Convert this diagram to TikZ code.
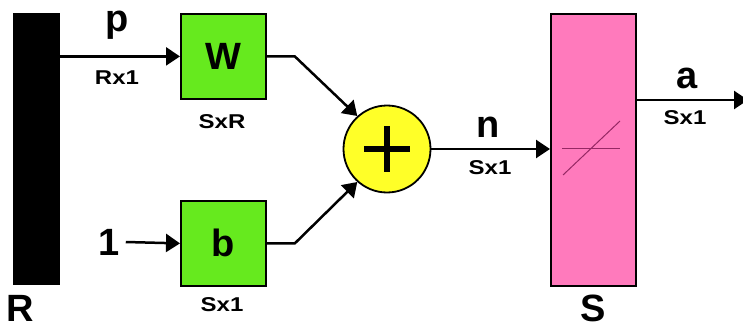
\documentclass[tikz,border=0pt]{standalone}
\usepackage{fontspec}
\setmainfont{Liberation Sans}
\usepackage{graphicx}
\usetikzlibrary{arrows.meta,calc}

\definecolor{blockgreen}{RGB}{102,234,30}
\definecolor{sumyellow}{RGB}{255,255,40}
\definecolor{tfpink}{RGB}{255,122,188}
\definecolor{tfline}{RGB}{150,40,100}

\begin{document}
\begin{tikzpicture}[x=1pt,y=-1pt,
  blk/.style={draw=black, line width=1.8pt, inner sep=0pt, anchor=north west},
  wire/.style={line width=2.5pt, -{Triangle[length=14pt,width=18pt]}},
  big/.style={font=\fontsize{38}{38}\selectfont\bfseries, inner sep=0pt},
  dim/.style={font=\fontsize{20}{20}\selectfont\bfseries, inner sep=0pt}]

\useasboundingbox (0,0) rectangle (743,326);

% input vector bar
\node[fill=black, inner sep=0pt, minimum width=47pt, minimum height=272pt, anchor=north west] (R) at (13,13) {};

% weight and bias blocks
\node[blk, fill=blockgreen, minimum width=85pt, minimum height=85pt] (W) at (180,13) {};
\node[big] at (W.center) {W};
\node[blk, fill=blockgreen, minimum width=85pt, minimum height=85pt] (b) at (180,200) {};
\node[big] at (b.center) {b};

% summing junction
\node[circle, draw=black, line width=1.8pt, fill=sumyellow, minimum size=87pt, inner sep=0pt] (sum) at (387,149) {};
\draw[line width=5.5pt] ($(sum.center)+(-23,0)$) -- ($(sum.center)+(23,0)$);
\draw[line width=5.5pt] ($(sum.center)+(0,-23)$) -- ($(sum.center)+(0,23)$);

% transfer function block
\node[blk, fill=tfpink, minimum width=85pt, minimum height=272pt] (S) at (550,13) {};
\draw[tfline, line width=1pt] (562,148) -- (620,148);
\draw[tfline, line width=1pt] (563,175) -- (620,121);

% input one for the bias
\node[big] (one) at (109,242) {1};

% connectors
\draw[wire] (R.east |- W.west) -- (W.west);
\draw[wire] (one.east) ++(6,0) -- (b.west);
\draw[wire] (W.east) -- ++(28,0) -- (sum.132);
\draw[wire] (b.east) -- ++(28,0) -- (sum.228);
\draw[wire] (sum.east) -- (S.west |- sum.east);
\coordinate (out) at (748,100);
\draw[wire] (S.east |- out) -- (out);

% signal labels
\node[big] at (117,25) {p};
\node[dim] at (117,78) {\scalebox{1.2}[1]{Rx1}};
\node[dim] at (222,122) {\scalebox{1.2}[1]{SxR}};
\node[dim] at (222,305) {\scalebox{1.2}[1]{Sx1}};
\node[big] at (488,127) {n};
\node[dim] at (490,168) {\scalebox{1.2}[1]{Sx1}};
\node[big] at (687,78) {a};
\node[dim] at (685,118) {\scalebox{1.2}[1]{Sx1}};
\node[big, anchor=base] at (20,321) {R};
\node[big, anchor=base] at (593,321) {S};
\end{tikzpicture}
\end{document}
